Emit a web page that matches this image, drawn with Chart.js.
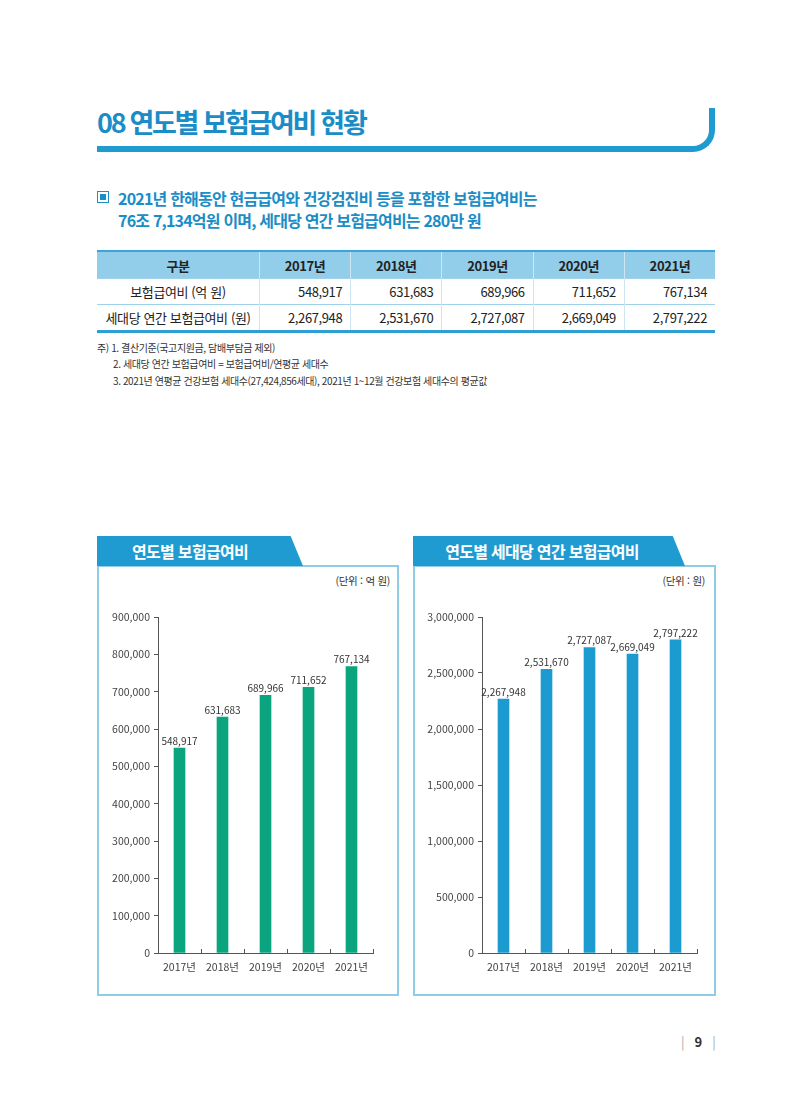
<!DOCTYPE html>
<html lang="ko">
<head>
<meta charset="utf-8">
<script src="https://cdn.jsdelivr.net/npm/chart.js@4.4.1/dist/chart.umd.min.js"></script>
<style>
  html, body { margin: 0; padding: 0; background: #fff; }
  #page { position: relative; width: 800px; height: 1096px; overflow: hidden;
          font-family: "Noto Sans CJK KR", "Noto Sans", sans-serif; color: #222; }
  .abs { position: absolute; }
  #title { left: 97px; top: 104px; font-size: 27px; font-weight: 700; color: #1a8dc7;
           letter-spacing: -2.3px; white-space: nowrap; line-height: 36px; }
  #rule { left: 97px; top: 108px; width: 612px; height: 38px;
          border-right: 6px solid #1f9bd1; border-bottom: 6px solid #1f9bd1;
          border-bottom-right-radius: 22px; }
  .lead { left: 118px; font-size: 16px; font-weight: 700; color: #1b8dc6;
          letter-spacing: -0.8px; white-space: nowrap; line-height: 22px; }
  #box-icon { left: 97px; top: 191px; width: 10px; height: 10px; border: 1.5px solid #1b8dc6; }
  #box-icon::after { content: ""; position: absolute; left: 2px; top: 2px; width: 6px; height: 6px; background: #1b8dc6; }
  table { position: absolute; left: 97px; top: 250px; width: 618px; border-collapse: collapse;
          font-size: 13px; letter-spacing: -0.4px; }
  table { border-top: 2px solid #3aa6d8; border-bottom: 3px solid #2d9fd5; }
  th { background: #92cdea; font-weight: 700; height: 26px; padding: 0; border-left: 1px solid #cfe6f2; }
  td { height: 25px; padding: 0 8px; text-align: right; border-left: 1px solid #cfe6f2;
       border-top: 1px solid #9fd2ea; }
  th:first-child, td:first-child { border-left: none; text-align: center; }
  .note { font-size: 10px; color: #333; letter-spacing: -0.4px; white-space: nowrap; }
  .panel { border: 2px solid #8fcde6; box-sizing: border-box; }
  .tab { height: 30px; background: #1f9bd1; color: #fff; font-size: 16px; font-weight: 700;
         line-height: 30px; text-align: center; letter-spacing: -0.7px; box-sizing: border-box; }
  .unit { font-size: 10.5px; color: #333; letter-spacing: -0.3px; white-space: nowrap; }
  .chartbox { position: absolute; }
  #pageno { left: 681px; top: 1032px; font-size: 13px; color: #333; white-space: nowrap; }
  #pageno b { margin: 0 10px; }
  #pageno span { color: #aaa; }
</style>
</head>
<body>
<div id="page">
  <div id="rule" class="abs"></div>
  <div id="title" class="abs">08 연도별 보험급여비 현황</div>

  <div id="box-icon" class="abs"></div>
  <div class="abs lead" style="top:187px">2021년 한해동안 현금급여와 건강검진비 등을 포함한 보험급여비는</div>
  <div class="abs lead" style="top:209px">76조 7,134억원 이며, 세대당 연간 보험급여비는 280만 원</div>

  <table id="summary"></table>

  <div class="abs note" style="left:97px;top:340px">주) 1. 결산기준(국고지원금, 담배부담금 제외)</div>
  <div class="abs note" style="left:113px;top:356px">2. 세대당 연간 보험급여비 = 보험급여비/연평균 세대수</div>
  <div class="abs note" style="left:113px;top:373px">3. 2021년 연평균 건강보험 세대수(27,424,856세대), 2021년 1~12월 건강보험 세대수의 평균값</div>

  <!-- left panel -->
  <div class="abs panel" style="left:97px;top:565px;width:302px;height:431px"></div>
  <div class="abs tab" style="left:97px;top:536px;width:206px;padding-right:20px;clip-path:polygon(0 0,94% 0,100% 100%,0 100%)">연도별 보험급여비</div>
  <div class="abs unit" style="right:410px;top:573px">(단위 : 억 원)</div>
  <div class="chartbox" style="left:100px;top:595px;width:285px;height:390px"><canvas id="totalChart"></canvas></div>

  <!-- right panel -->
  <div class="abs panel" style="left:413px;top:565px;width:303px;height:431px"></div>
  <div class="abs tab" style="left:413px;top:536px;width:272px;padding-right:14px;clip-path:polygon(0 0,95.5% 0,100% 100%,0 100%)">연도별 세대당 연간 보험급여비</div>
  <div class="abs unit" style="right:95px;top:573px">(단위 : 원)</div>
  <div class="chartbox" style="left:416px;top:595px;width:290px;height:390px"><canvas id="householdChart"></canvas></div>

  <div id="pageno" class="abs"><span>|</span><b>9</b><span>|</span></div>
</div>

<script>
const years = ['2017년', '2018년', '2019년', '2020년', '2021년'];
const totalBenefit = [548917, 631683, 689966, 711652, 767134];        // 억 원
const householdBenefit = [2267948, 2531670, 2727087, 2669049, 2797222]; // 원

const fmt = v => v.toLocaleString('en-US');

// summary table
const table = document.getElementById('summary');
table.innerHTML =
  '<tr><th style="width:162px">구분</th>' + years.map(y => '<th>' + y + '</th>').join('') + '</tr>' +
  '<tr><td>보험급여비 (억 원)</td>' + totalBenefit.map(v => '<td>' + fmt(v) + '</td>').join('') + '</tr>' +
  '<tr><td>세대당 연간 보험급여비 (원)</td>' + householdBenefit.map(v => '<td>' + fmt(v) + '</td>').join('') + '</tr>';

Chart.defaults.font.family = '"Noto Sans CJK KR", "Noto Sans", sans-serif';
Chart.defaults.color = '#444';

// numbers above the bars
const valueLabels = {
  id: 'valueLabels',
  afterDatasetsDraw(chart) {
    const ctx = chart.ctx;
    const ds = chart.data.datasets[0];
    ctx.save();
    ctx.font = '10px "Noto Sans CJK KR", sans-serif';
    ctx.fillStyle = '#333';
    ctx.textAlign = 'center';
    ctx.textBaseline = 'bottom';
    chart.getDatasetMeta(0).data.forEach((bar, i) => {
      ctx.fillText(fmt(ds.data[i]), bar.x, bar.y - 2);
    });
    ctx.restore();
  }
};

// small upward ticks between categories on the x axis
const xTicksUp = {
  id: 'xTicksUp',
  afterDraw(chart) {
    const x = chart.scales.x;
    const ctx = chart.ctx;
    const n = chart.data.labels.length;
    const half = (x.getPixelForValue(1) - x.getPixelForValue(0)) / 2;
    ctx.save();
    ctx.strokeStyle = '#555';
    ctx.lineWidth = 1;
    ctx.beginPath();
    for (let i = 0; i < n; i++) {
      const px = Math.round(x.getPixelForValue(i) + half) + 0.5;
      ctx.moveTo(px, x.top);
      ctx.lineTo(px, x.top - 4);
    }
    ctx.stroke();
    ctx.restore();
  }
};

function barChart(id, values, color, max, step, yWidth, padRight) {
  return new Chart(document.getElementById(id), {
    type: 'bar',
    data: {
      labels: years,
      datasets: [{ data: values, backgroundColor: color, barThickness: 11 }]
    },
    options: {
      responsive: true,
      maintainAspectRatio: false,
      animation: false,
      layout: { padding: { top: 22, right: padRight, left: 0, bottom: 0 } },
      plugins: { legend: { display: false }, tooltip: { enabled: false } },
      scales: {
        x: {
          grid: { display: false },
          border: { color: '#555', width: 1 },
          ticks: { font: { size: 10.5 }, color: '#444', padding: 0, maxRotation: 0 },
          afterFit: s => { s.height = 32; }
        },
        y: {
          min: 0,
          max: max,
          ticks: { stepSize: step, font: { size: 10.5 }, color: '#444', padding: 4, callback: v => fmt(v) },
          grid: { drawOnChartArea: false, drawTicks: true, tickLength: 4, color: '#555' },
          border: { color: '#555', width: 1 },
          afterFit: s => { s.width = yWidth; }
        }
      }
    },
    plugins: [valueLabels, xTicksUp]
  });
}

barChart('totalChart', totalBenefit, '#0aa57f', 900000, 100000, 58, 12);
barChart('householdChart', householdBenefit, '#1c9bd1', 3000000, 500000, 66, 9);
</script>
</body>
</html>
